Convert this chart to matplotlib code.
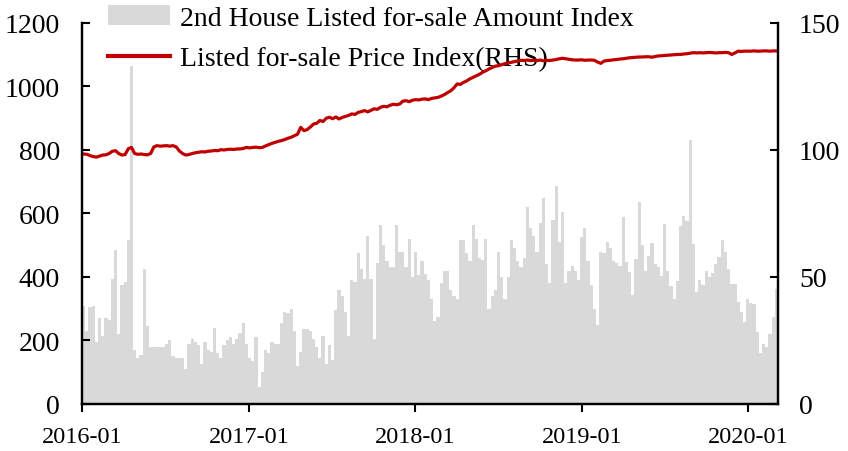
import pandas as pd
import matplotlib.pyplot as plt
import matplotlib.dates as mdates

plt.rcParams['font.family'] = ['Liberation Serif', 'DejaVu Serif']

# weekly amount index (LHS)
amount = [
    310, 230, 305, 310, 195, 270, 215, 270, 265, 395,
    485, 220, 375, 385, 515, 1065, 170, 145, 155, 425,
    245, 180, 180, 180, 180, 180, 190, 200, 150, 145,
    145, 145, 110, 190, 205, 195, 185, 125, 195, 170,
    165, 240, 160, 145, 185, 200, 210, 190, 205, 225,
    255, 190, 145, 135, 210, 55, 100, 170, 160, 195,
    190, 190, 255, 290, 285, 300, 230, 120, 165, 235,
    235, 230, 205, 180, 145, 215, 125, 185, 140, 295,
    360, 340, 290, 215, 390, 385, 475, 425, 395, 530,
    395, 205, 445, 565, 500, 450, 430, 430, 565, 480,
    480, 430, 520, 400, 480, 405, 450, 410, 390, 330,
    262, 275, 380, 420, 420, 360, 340, 330, 515, 515,
    475, 450, 565, 520, 460, 455, 520, 300, 340, 360,
    480, 400, 330, 400, 515, 490, 450, 430, 460, 620,
    555, 530, 480, 570, 650, 440, 380, 580, 685, 510,
    605, 380, 420, 435, 420, 390, 525, 555, 450, 375,
    300, 250, 480, 476, 510, 490, 450, 443, 435, 590,
    446, 415, 344, 457, 637, 500, 420, 467, 506, 441,
    430, 404, 567, 420, 373, 331, 388, 562, 593, 575,
    830, 504, 354, 390, 375, 420, 400, 412, 441, 464,
    518, 480, 425, 378, 378, 320, 291, 259, 331, 317,
    315, 226, 161, 188, 179, 221, 275, 362,
]

# weekly price index (RHS)
price = [
    98.4, 98.3, 97.8, 97.4, 97.2, 97.6, 98.0, 98.1, 98.6, 99.5,
    99.7, 98.6, 98.0, 98.2, 100.5, 101.0, 98.6, 98.3, 98.4, 98.2,
    98.1, 98.6, 101.2, 101.7, 101.5, 101.6, 101.7, 101.5, 101.7, 101.2,
    99.6, 98.6, 98.0, 98.2, 98.6, 98.9, 99.1, 99.3, 99.2, 99.5,
    99.6, 99.8, 99.7, 100.1, 100.0, 100.2, 100.3, 100.2, 100.4, 100.4,
    100.6, 101.0, 100.8, 101.0, 101.1, 100.9, 101.0, 101.6, 102.1, 102.6,
    103.0, 103.4, 103.7, 104.1, 104.6, 105.0, 105.6, 106.2, 108.9, 107.6,
    108.0, 109.0, 110.2, 110.5, 111.6, 111.2, 112.5, 112.9, 112.3, 113.0,
    112.2, 112.8, 113.2, 113.6, 114.2, 114.0, 114.8, 115.1, 115.5, 115.0,
    115.6, 116.2, 116.0, 116.8, 117.2, 117.0, 117.6, 118.0, 117.8, 118.1,
    119.2, 119.4, 119.0, 119.6, 119.8, 119.7, 120.0, 120.1, 119.8, 120.3,
    120.5, 120.7, 121.2, 121.8, 122.6, 123.3, 124.5, 126.0, 125.8, 126.6,
    127.2, 128.0, 128.6, 129.2, 129.8, 130.6, 131.2, 131.9, 132.5, 133.0,
    133.2, 133.6, 134.0, 134.3, 134.5, 134.8, 135.0, 135.3, 135.2, 135.4,
    135.2, 135.3, 135.2, 135.4, 135.1, 135.3, 135.2, 135.4, 135.6, 135.9,
    136.1, 135.9, 135.7, 135.5, 135.4, 135.4, 135.5, 135.3, 135.4, 135.4,
    135.3, 134.6, 134.1, 135.0, 135.2, 135.3, 135.5, 135.6, 135.8, 135.9,
    136.1, 136.3, 136.4, 136.5, 136.6, 136.6, 136.7, 136.7, 136.5, 136.8,
    137.0, 137.1, 137.2, 137.3, 137.4, 137.5, 137.6, 137.6, 137.8, 137.9,
    138.1, 138.3, 138.2, 138.3, 138.2, 138.3, 138.4, 138.3, 138.2, 138.3,
    138.3, 138.4, 138.3, 137.6, 138.2, 138.9, 138.8, 138.9, 138.9, 138.9,
    139.0, 138.9, 138.9, 139.0, 139.0, 138.9, 139.0, 139.0,
]

weeks = pd.date_range("2016-01-01", periods=len(amount), freq="7D")
year_ticks = pd.to_datetime(["2016-01-01", "2017-01-01", "2018-01-01", "2019-01-01", "2020-01-01"])

fig = plt.figure(figsize=(8.48, 4.52), dpi=100)
ax = fig.add_axes([0.0967, 0.104, 0.8208, 0.843])
ax2 = ax.twinx()

ax.bar(weeks, amount, width=7, align="edge", color="#d9d9d9", linewidth=0,
       label="2nd House Listed for-sale Amount Index")
ax2.plot(weeks + pd.Timedelta(days=3.5), price, color="#c00000", lw=2.3,
         label="Listed for-sale Price Index(RHS)")

ax.set_xlim(pd.Timestamp("2016-01-01"), pd.Timestamp("2020-03-06"))
ax.set_ylim(0, 1200)
ax.set_yticks(range(0, 1201, 200))
ax2.set_ylim(0, 150)
ax2.set_yticks([0, 50, 100, 150])

ax.set_xticks(year_ticks)
ax.xaxis.set_major_formatter(mdates.DateFormatter("%Y-%m"))

for a in (ax, ax2):
    a.spines["top"].set_visible(False)
    for s in ("left", "right", "bottom"):
        a.spines[s].set_linewidth(1.6)
ax.tick_params(axis="y", direction="in", length=6, width=1.5, labelsize=20, pad=16)
ax2.tick_params(axis="y", direction="in", length=6, width=1.5, labelsize=20, pad=15)
ax.tick_params(axis="x", direction="out", length=6, width=1.5, labelsize=17.5, pad=10)

h1, l1 = ax.get_legend_handles_labels()
h2, l2 = ax2.get_legend_handles_labels()
leg = ax.legend(h1 + h2, l1 + l2, loc="upper left", bbox_to_anchor=(0.037, 1.046),
                frameon=False, fontsize=20, borderpad=0, borderaxespad=0,
                handlelength=2.23, handletextpad=0.36, labelspacing=0.55)
leg.get_lines()[0].set_linewidth(3)

fig.savefig("out.png", dpi=100)
